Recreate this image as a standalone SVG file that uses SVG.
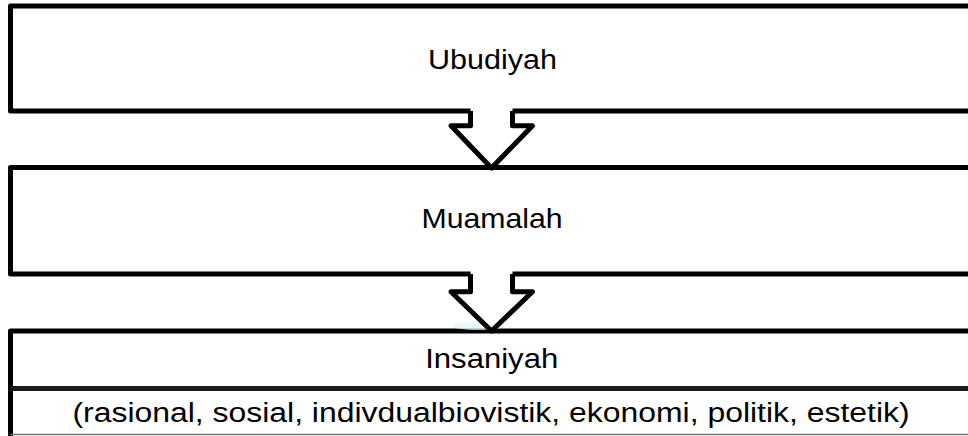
<svg xmlns="http://www.w3.org/2000/svg" width="968" height="436" viewBox="0 0 968 436">
  <style>
    .box { fill: #ffffff; stroke: #000000; stroke-width: 5; stroke-linejoin: round; }
    .edge { fill: none; stroke: #000000; stroke-width: 5; stroke-linejoin: round; }
    .arrow-fill { fill: #ffffff; stroke: none; }
    .label { font-family: "Liberation Sans", Arial, sans-serif; font-size: 28px; fill: #000000; text-anchor: middle; }
  </style>
  <rect width="968" height="436" fill="#ffffff"/>

  <!-- top level -->
  <g id="ubudiyah">
    <rect class="box" x="10.5" y="6" width="990" height="105"/>
    <text class="label" transform="translate(492.5,68.5) scale(1.09,1)">Ubudiyah</text>
  </g>

  <!-- middle level -->
  <g id="muamalah">
    <rect class="box" x="10.5" y="167.5" width="990" height="106.5"/>
    <text class="label" transform="translate(492,228.3) scale(1.08,1)">Muamalah</text>
  </g>

  <!-- bottom level: title row plus list row -->
  <g id="insaniyah">
    <path class="edge" d="M1000,331 H10.5 V440"/>
    <path fill="none" stroke="#1a1a1a" stroke-width="5" d="M10.5,388.5 H1000"/>
    <path fill="none" stroke="#777777" stroke-width="1.5" d="M10.5,434.5 H1000"/>
    <ellipse cx="478" cy="326" rx="26" ry="4" fill="#e2f7fa" opacity="0.7"/>
    <text class="label" transform="translate(491.7,368.3) scale(1.11,1)">Insaniyah</text>
    <text class="label" font-size="29" transform="translate(491,421.7) scale(1.14,1)">(rasional, sosial, indivdualbiovistik, ekonomi, politik, estetik)</text>
  </g>

  <!-- block arrows between levels -->
  <g id="connectors">
    <path class="arrow-fill" d="M470.5,105 V125.8 H451 L491.5,168 L532.5,125.8 H512.5 V105 Z"/>
    <path class="edge" d="M470.5,111 V125.8 H451 L491.5,168 L532.5,125.8 H512.5 V111"/>
    <path class="arrow-fill" d="M470.5,268 V291.7 H451 L491.5,331 L532.5,291.7 H512.5 V268 Z"/>
    <path class="edge" d="M470.5,274 V291.7 H451 L491.5,331 L532.5,291.7 H512.5 V274"/>
  </g>
</svg>
